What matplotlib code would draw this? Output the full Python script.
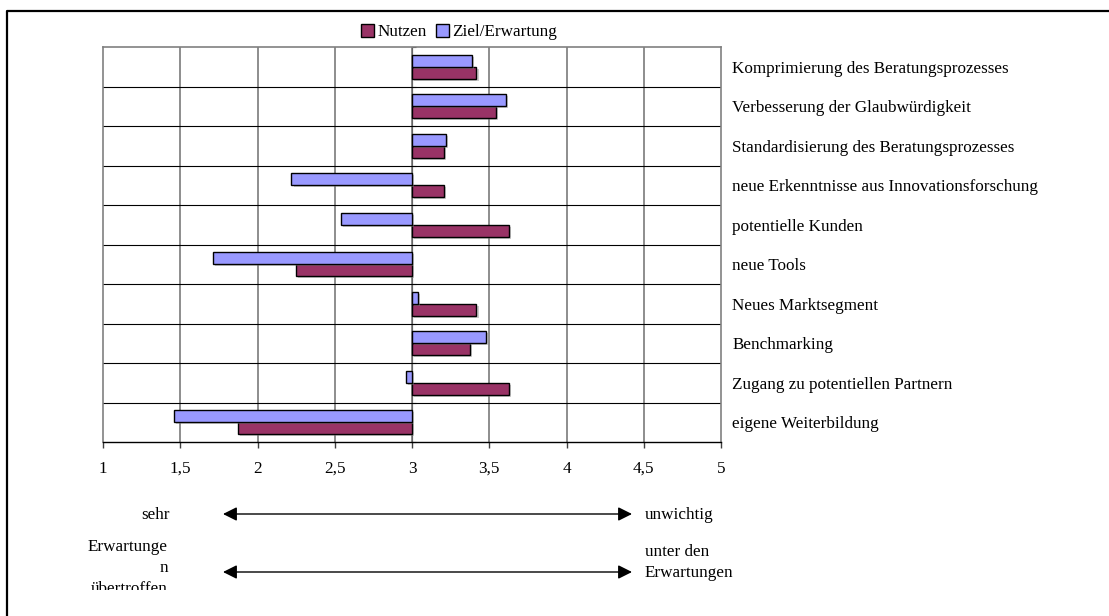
import matplotlib
matplotlib.use("Agg")
import matplotlib.pyplot as plt
import numpy as np
from matplotlib.lines import Line2D
from matplotlib.patches import FancyArrowPatch, Patch
from matplotlib.transforms import Bbox
import matplotlib.patheffects as pe

# Survey results: 1 = very important / expectations exceeded, 5 = unimportant / below expectations
categories = [
    "Komprimierung des Beratungsprozesses",
    "Verbesserung der Glaubwürdigkeit",
    "Standardisierung des Beratungsprozesses",
    "neue Erkenntnisse aus Innovationsforschung",
    "potentielle Kunden",
    "neue Tools",
    "Neues Marktsegment",
    "Benchmarking",
    "Zugang zu potentiellen Partnern",
    "eigene Weiterbildung",
]
nutzen = [3.417, 3.542, 3.208, 3.208, 3.625, 2.25, 3.417, 3.375, 3.625, 1.875]
ziel = [3.39, 3.61, 3.22, 2.22, 2.54, 1.71, 3.04, 3.48, 2.96, 1.46]
series_names = ["Nutzen", "Ziel/Erwartung"]
x_ticks = [1, 1.5, 2, 2.5, 3, 3.5, 4, 4.5, 5]
x_tick_labels = ["1", "1,5", "2", "2,5", "3", "3,5", "4", "4,5", "5"]
baseline = 3

col_nutzen = "#993366"
col_ziel = "#9999FF"
FS = 12.3
W, H = 1109, 616

plt.rcParams["font.family"] = ["Liberation Serif", "DejaVu Serif"]

fig = plt.figure(figsize=(W / 100, H / 100), dpi=100)
fig.patch.set_facecolor("white")

def fx(px):
    return px / W

def fy(py):
    return 1 - py / H

ax = fig.add_axes([fx(103), fy(442), fx(721) - fx(103), fy(47) - fy(442)])

y = np.arange(len(categories))
bh = 0.3
shadow = [pe.SimplePatchShadow(offset=(1.5, -1.5), shadow_rgbFace="0.55", alpha=0.45), pe.Normal()]

b1 = ax.barh(y + bh / 2, np.array(nutzen) - baseline, left=baseline, height=bh,
             color=col_nutzen, edgecolor="black", linewidth=1.0, zorder=3)
b2 = ax.barh(y - bh / 2, np.array(ziel) - baseline, left=baseline, height=bh,
             color=col_ziel, edgecolor="black", linewidth=1.0, zorder=3)
for bar in list(b1) + list(b2):
    bar.set_path_effects(shadow)

ax.set_xlim(1, 5)
ax.set_ylim(len(categories) - 0.5, -0.5)

# grid: vertical at each half step, horizontal between categories
for xv in x_ticks[1:-1]:
    ax.axvline(xv, color="#7a7a7a", linewidth=1.2, zorder=1)
for yb in np.arange(0.5, len(categories) - 0.5, 1.0):
    ax.axhline(yb, color="black", linewidth=0.8, zorder=1)

for side in ["top", "left", "right"]:
    ax.spines[side].set_color("#808080")
    ax.spines[side].set_linewidth(1.2)
ax.spines["bottom"].set_color("black")
ax.spines["bottom"].set_linewidth(1.0)

ax.set_xticks(x_ticks)
ax.set_xticklabels(x_tick_labels, fontsize=FS)
ax.tick_params(axis="x", direction="out", length=4, width=1.0, color="#404040", pad=9.5)

ax.set_yticks(y)
ax.set_yticklabels(categories, fontsize=FS)
ax.yaxis.tick_right()
ax.tick_params(axis="y", length=0, pad=8)
for lbl in ax.get_yticklabels():
    lbl.set_horizontalalignment("left")

# category axis crossing at the midpoint of the scale
sec = ax.secondary_yaxis(0.5)
sec.spines["left"].set_visible(False)
sec.set_yticks(np.arange(-0.5, len(categories), 1.0))
sec.set_yticklabels([])
sec.tick_params(axis="y", direction="out", length=3, width=0.8, color="#404040")

# legend
handles = [Patch(facecolor=col_nutzen, edgecolor="black", linewidth=1.0),
           Patch(facecolor=col_ziel, edgecolor="black", linewidth=1.0)]
fig.legend(handles, series_names, loc="center", bbox_to_anchor=(fx(459), fy(32)),
           ncol=2, frameon=False, fontsize=FS, handlelength=0.8, handleheight=0.8,
           handletextpad=0.2, columnspacing=0.5, borderaxespad=0)

# scale explanation below the axis
fig.text(fx(170), fy(515), "sehr", ha="right", va="center", fontsize=FS)
fig.text(fx(645), fy(515), "unwichtig", ha="left", va="center", fontsize=FS)
fig.text(fx(645), fy(552), "unter den", ha="left", va="center", fontsize=FS)
fig.text(fx(645), fy(573), "Erwartungen", ha="left", va="center", fontsize=FS)
fig.text(fx(168), fy(547), "Erwartunge", ha="right", va="center", fontsize=FS)
fig.text(fx(168), fy(568), "n", ha="right", va="center", fontsize=FS)
t_cut = fig.text(fx(168), fy(589), "übertroffen", ha="right", va="center", fontsize=FS)
t_cut.set_clip_box(Bbox([[0, H - 590], [W, H]]))
t_cut.set_clip_on(True)

for ypx in (514, 572):
    arr = FancyArrowPatch((fx(223), fy(ypx)), (fx(632), fy(ypx)), transform=fig.transFigure,
                          arrowstyle="<|-|>,head_length=0.6,head_width=0.3",
                          mutation_scale=14, color="black", linewidth=1.0,
                          shrinkA=0, shrinkB=0)
    fig.add_artist(arr)

# outer frame (left and top edges)
fig.add_artist(Line2D([fx(7), fx(7), fx(W + 5)], [fy(H + 5), fy(11), fy(11)],
                      transform=fig.transFigure, color="black", linewidth=1.6))

fig.savefig("out.png", dpi=100, facecolor="white")
